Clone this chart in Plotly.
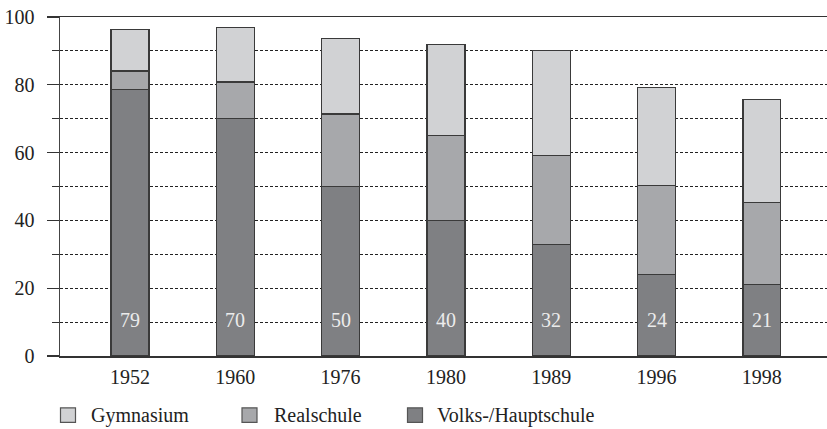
import plotly.graph_objects as go

years = ["1952", "1960", "1976", "1980", "1989", "1996", "1998"]
volks = [78.6, 70.0, 50.0, 40.0, 32.8, 24.1, 21.0]
real = [5.5, 10.8, 21.4, 25.1, 26.3, 26.1, 24.2]
gym = [12.3, 16.2, 22.2, 26.8, 31.0, 29.1, 30.4]
volks_labels = ["79", "70", "50", "40", "32", "24", "21"]
series_names = ["Gymnasium", "Realschule", "Volks-/Hauptschule"]
colors = {"Gymnasium": "#d1d2d4", "Realschule": "#a7a8ab", "Volks-/Hauptschule": "#7f8083"}

FONT = "Liberation Serif"
W, H = 827, 429
ML, MR, MT = 60, 0, 16.5
PH = 340
MB = H - MT - PH
PW = W - ML - MR

fig = go.Figure()
for name, vals in [("Volks-/Hauptschule", volks), ("Realschule", real), ("Gymnasium", gym)]:
    fig.add_trace(go.Bar(
        x=list(range(len(years))), y=vals, name=name, width=0.36,
        marker=dict(color=colors[name], line=dict(color="#3a3a3a", width=1.3)),
        showlegend=False, hoverinfo="skip",
    ))

# value labels inside the dark segment
for i, lab in enumerate(volks_labels):
    fig.add_annotation(x=i, y=10.6, text=lab, showarrow=False, xref="x", yref="y",
                       font=dict(family=FONT, size=20, color="#ececec"))

# manual legend (page pixel positions converted to paper coords)
def px2paper_x(px):
    return (px - ML) / PW

def px2paper_y(py):
    return (MT + PH - py) / PH

legend_items = [("Gymnasium", 60.5, 89), ("Realschule", 242, 271.5), ("Volks-/Hauptschule", 407.5, 435)]
for name, sx, tx in legend_items:
    fig.add_shape(type="rect", xref="paper", yref="paper",
                  x0=px2paper_x(sx), x1=px2paper_x(sx + 15),
                  y0=px2paper_y(423), y1=px2paper_y(408.5),
                  fillcolor=colors[name], line=dict(color="#555555", width=1.2))
    fig.add_annotation(x=px2paper_x(tx), y=px2paper_y(416), xref="paper", yref="paper",
                       text=name, showarrow=False, xanchor="left", yanchor="middle",
                       font=dict(family=FONT, size=20, color="#222222"))

fig.update_layout(
    width=W, height=H,
    margin=dict(l=ML, r=MR, t=MT, b=MB, pad=0, autoexpand=False),
    barmode="stack",
    plot_bgcolor="white", paper_bgcolor="white",
    font=dict(family=FONT, size=20, color="#222222"),
    hovermode=False,
    xaxis=dict(
        range=[-0.665, 6.619],
        tickmode="array", tickvals=list(range(len(years))), ticktext=years,
        showgrid=False, zeroline=False,
        showline=True, linecolor="#333333", linewidth=1.5, mirror=True,
        ticks="", ticklabelstandoff=2,
        tickfont=dict(family=FONT, size=20, color="#222222"),
    ),
    yaxis=dict(
        range=[0, 100], tickvals=[0, 20, 40, 60, 80, 100],
        showgrid=True, gridcolor="#222222", gridwidth=1, griddash="3px,2px",
        zeroline=False,
        showline=True, linecolor="#444444", linewidth=1.5,
        ticks="outside", ticklen=12, tickcolor="#333333", tickwidth=1.3,
        ticklabelstandoff=8, ticklabeloverflow="allow",
        tickfont=dict(family=FONT, size=20, color="#222222"),
        minor=dict(tickvals=[10, 30, 50, 70, 90], ticks="outside", ticklen=7,
                   tickcolor="#333333", tickwidth=1, showgrid=True,
                   gridcolor="#222222", gridwidth=1, griddash="3px,2px"),
    ),
)

fig.write_html("out.html", config={"displayModeBar": False, "staticPlot": True},
               post_script="document.body.style.margin='0';document.body.style.overflow='hidden';")
